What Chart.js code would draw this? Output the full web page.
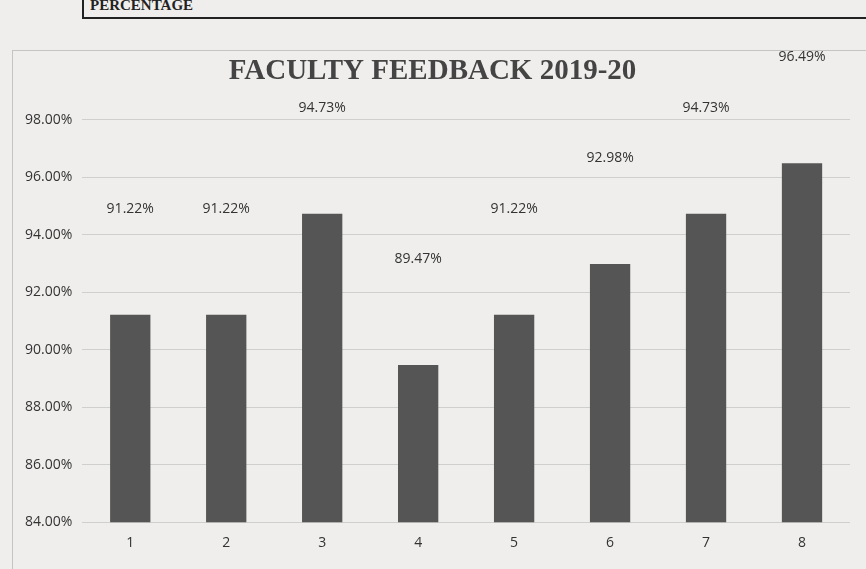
<!DOCTYPE html>
<html>
<head>
<meta charset="utf-8">
<script src="https://cdn.jsdelivr.net/npm/chart.js@4"></script>
<style>
  html, body { margin: 0; padding: 0; background: #efeeec; }
  #wrap { position: relative; width: 866px; height: 569px; overflow: hidden; }
  #frame { position: absolute; left: 12px; top: 50px; width: 900px; height: 560px; border: 1px solid #c4c4c2; }
  #head { position: absolute; left: 82px; top: -9px; width: 900px; height: 28px; border: 2px solid #222; border-top: none;
          font: bold 15px "Liberation Serif", serif; color: #222; padding-left: 6px; line-height: 28px; box-sizing: border-box; }
  canvas { position: absolute; left: 0; top: 0; }
</style>
</head>
<body>
<div id="wrap">
  <div id="head">PERCENTAGE</div>
  <div id="frame"></div>
  <canvas id="chart" width="866" height="569"></canvas>
</div>
<script>
const categories = ['1', '2', '3', '4', '5', '6', '7', '8'];
const percentages = [91.22, 91.22, 94.73, 89.47, 91.22, 92.98, 94.73, 96.49];
const yTicks = [84, 86, 88, 90, 92, 94, 96, 98];

// Excel placed the data labels well above each bar
const barLabels = {
  id: 'barLabels',
  afterDatasetsDraw(chart) {
    const ctx = chart.ctx;
    ctx.save();
    ctx.font = '14px "Open Sans", sans-serif';
    ctx.fillStyle = '#333';
    ctx.textAlign = 'center';
    ctx.textBaseline = 'middle';
    chart.getDatasetMeta(0).data.forEach((bar, i) => {
      ctx.fillText(percentages[i].toFixed(2) + '%', bar.x, bar.y - 106);
    });
    ctx.restore();
  }
};

new Chart(document.getElementById('chart').getContext('2d'), {
  type: 'bar',
  data: {
    labels: categories,
    datasets: [{
      label: 'Percentage',
      data: percentages,
      backgroundColor: '#555555',
      barPercentage: 0.42,
      categoryPercentage: 1
    }]
  },
  options: {
    responsive: false,
    animation: false,
    layout: { padding: { top: 0, left: 15, right: 16, bottom: 6 } },
    plugins: {
      legend: { display: false },
      tooltip: { enabled: false },
      title: {
        display: true,
        text: 'FACULTY FEEDBACK 2019-20',
        color: '#444',
        font: { family: '"Liberation Serif", serif', size: 29, weight: 'bold' },
        padding: { top: 54, bottom: 31 }
      }
    },
    scales: {
      y: {
        min: 84,
        max: 98,
        afterBuildTicks: (axis) => { axis.ticks = yTicks.map(v => ({ value: v })); },
        ticks: {
          color: '#333',
          font: { family: '"Open Sans", sans-serif', size: 14 },
          padding: 10,
          callback: (v) => v.toFixed(2) + '%'
        },
        grid: { color: '#cfcfcd', drawTicks: false },
        border: { display: false }
      },
      x: {
        ticks: {
          color: '#333',
          font: { family: '"Open Sans", sans-serif', size: 14 },
          padding: 12
        },
        grid: { display: false, drawTicks: false },
        border: { display: false }
      }
    }
  },
  plugins: [barLabels]
});
</script>
</body>
</html>
